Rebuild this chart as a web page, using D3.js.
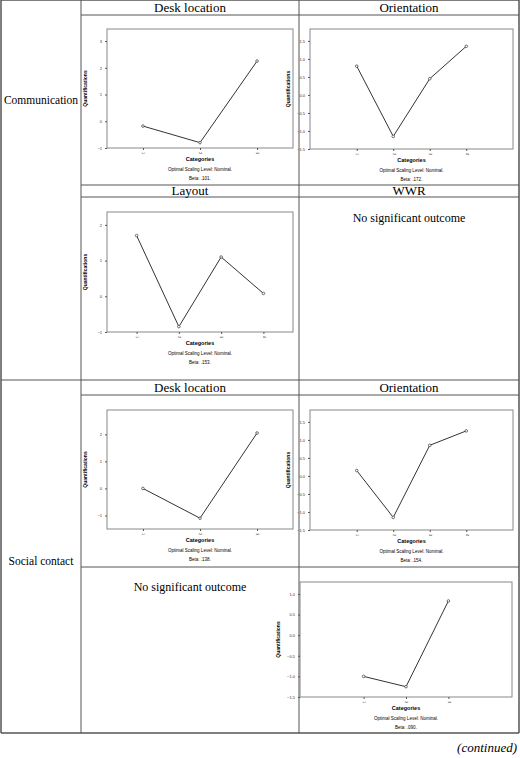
<!DOCTYPE html>
<html><head><meta charset="utf-8">
<script src="https://cdn.jsdelivr.net/npm/d3@7"></script>
<style>body{margin:0;background:#fff}</style>
</head><body>
<script>
// data
const commDesk = [-0.18, -0.8, 2.25];
const commOrient = [0.8, -1.15, 0.45, 1.35];
const commLayout = [1.7, -0.85, 1.1, 0.08];
const socDesk = [0.0, -1.1, 2.05];
const socOrient = [0.15, -1.15, 0.85, 1.25];
const socOther = [-1.0, -1.25, 0.83];
const ticksInt = [-1, 0, 1, 2, 3];
const ticksHalf = [-1.5, -1.0, -0.5, 0.0, 0.5, 1.0, 1.5];
const betas = [".101", ".172", ".153", ".138", ".154", ".090"];

const svg = d3.select("body").append("svg").attr("width", 520).attr("height", 758);
const line = (x1, y1, x2, y2, w) => svg.append("line").attr("x1", x1).attr("y1", y1).attr("x2", x2).attr("y2", y2)
    .attr("stroke", "#555").attr("stroke-width", w || 1);
const serif = "'Liberation Serif', 'Times New Roman', serif";
const txt = (x, y, s, size, anchor, style) => svg.append("text").attr("x", x).attr("y", y).text(s)
    .attr("font-family", serif).attr("font-size", size).attr("text-anchor", anchor || "middle")
    .attr("font-style", style || "normal");

// table grid
const L = 1, R = 519, C1 = 81, C2 = 299;
[0, 733].forEach(y => line(L, y, R, y, 1.5));
[15, 185, 197, 395, 567].forEach(y => line(C1, y, R, y));
line(L, 380, R, 380);
line(L, 0, L, 733, 1.5); line(R, 0, R, 733, 1.5);
line(C1, 0, C1, 733); line(C2, 0, C2, 733);

txt(190, 12, "Desk location", 13); txt(409, 12, "Orientation", 13);
txt(190, 195, "Layout", 13); txt(409, 195, "WWR", 13);
txt(190, 392, "Desk location", 13); txt(409, 392, "Orientation", 13);
txt(41, 104, "Communication", 11.5); txt(41, 565, "Social contact", 11.5);
txt(409, 222, "No significant outcome", 12);
txt(190, 591, "No significant outcome", 12);
txt(517, 752, "(continued)", 13, "end", "italic");

function chart(vals, box, domain, ticks, pad, beta, fmt) {
    const [x0, y0, x1, y1] = box;
    const x = d3.scalePoint().domain(vals.map((d, i) => i + 1)).range([x0, x1]).padding(pad);
    const y = d3.scaleLinear().domain(domain).range([y1, y0]);
    const g = svg.append("g").attr("font-family", "'Liberation Sans', Arial, sans-serif");
    g.append("rect").attr("x", x0).attr("y", y0).attr("width", x1 - x0).attr("height", y1 - y0)
        .attr("fill", "none").attr("stroke", "#888");
    const ya = g.append("g").attr("transform", `translate(${x0},0)`)
        .call(d3.axisLeft(y).tickValues(ticks.filter(t => t >= domain[0] && t <= domain[1])).tickFormat(fmt).tickSize(2));
    const xa = g.append("g").attr("transform", `translate(0,${y1})`)
        .call(d3.axisBottom(x).tickSize(2));
    [ya, xa].forEach(a => { a.select(".domain").remove(); a.selectAll("text").attr("font-size", 4).attr("fill", "#333"); a.selectAll("line").attr("stroke", "#555"); });
    xa.selectAll("text").attr("transform", "rotate(90)").attr("dy", "0.3em").attr("x", 4).attr("y", 0).attr("text-anchor", "start");
    g.append("path").datum(vals).attr("fill", "none").attr("stroke", "#333").attr("stroke-width", 1)
        .attr("d", d3.line().x((d, i) => x(i + 1)).y(d => y(d)));
    g.selectAll("circle").data(vals).join("circle").attr("cx", (d, i) => x(i + 1)).attr("cy", d => y(d))
        .attr("r", 1.3).attr("fill", "#fff").attr("stroke", "#333").attr("stroke-width", 0.7);
    const cx = (x0 + x1) / 2;
    g.append("text").attr("x", cx).attr("y", y1 + 13).attr("text-anchor", "middle").attr("font-size", 5.5).attr("font-weight", "bold").text("Categories");
    g.append("text").attr("x", cx).attr("y", y1 + 23).attr("text-anchor", "middle").attr("font-size", 4.5).text("Optimal Scaling Level: Nominal.");
    g.append("text").attr("x", cx).attr("y", y1 + 32).attr("text-anchor", "middle").attr("font-size", 4.5).text("Beta: " + beta + ".");
    g.append("text").attr("transform", `translate(${x0 - 20},${(y0 + y1) / 2}) rotate(-90)`).attr("text-anchor", "middle")
        .attr("font-size", 5).attr("font-weight", "bold").text("Quantifications");
}
const f0 = d3.format("d"), f1 = d3.format(".1f");
chart(commDesk, [107, 29, 293, 148], [-1, 3.45], ticksInt, 0.63, betas[0], f0);
chart(commOrient, [310, 29, 513, 149], [-1.5, 1.83], ticksHalf, 1.28, betas[1], f1);
chart(commLayout, [107, 212, 293, 332], [-1, 2.36], ticksInt, 0.7, betas[2], f0);
chart(socDesk, [107, 410, 293, 529], [-1.5, 2.9], ticksInt, 0.63, betas[3], f0);
chart(socOrient, [310, 410, 513, 530], [-1.5, 1.83], ticksHalf, 1.28, betas[4], f1);
chart(socOther, [300, 582, 512, 697], [-1.5, 1.29], ticksHalf, 1.5, betas[5], f1);
</script>
</body></html>
